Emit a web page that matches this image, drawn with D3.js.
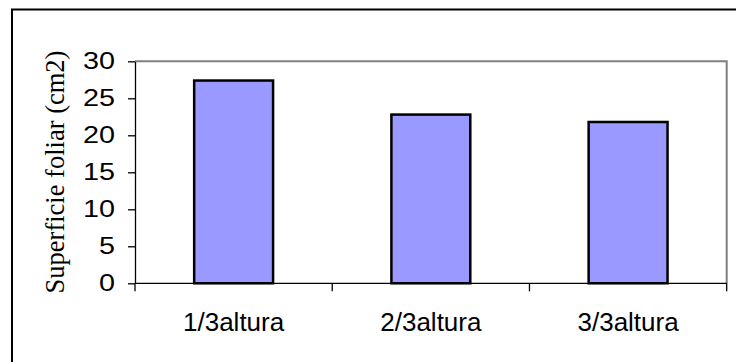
<!DOCTYPE html>
<html>
<head>
<meta charset="utf-8">
<script src="https://cdn.jsdelivr.net/npm/d3@7/dist/d3.min.js"></script>
<style>
  html, body { margin: 0; padding: 0; background: #fff; }
  svg { display: block; }
</style>
</head>
<body>
<svg id="chart" width="736" height="362"></svg>
<script>
// Leaf area by sampling height
const categories = ["1/3altura", "2/3altura", "3/3altura"];
const values = [27.4, 22.8, 21.8];
const yTicks = [0, 5, 10, 15, 20, 25, 30];
const yTitle = "Superficie foliar (cm2)";

const svg = d3.select("#chart");
const W = 736, H = 362;

// outer chart frame (runs off the right and bottom edges)
svg.append("rect")
  .attr("x", 12).attr("y", 9.5)
  .attr("width", W + 20).attr("height", H + 20)
  .attr("fill", "#fff").attr("stroke", "#000").attr("stroke-width", 2);

const plot = { left: 135, top: 61.3, right: 726.7, bottom: 283.3 };

const x = d3.scaleBand()
  .domain(categories)
  .range([plot.left, plot.right])
  .paddingInner(0.6)
  .paddingOuter(0.3);

const y = d3.scaleLinear()
  .domain([0, 30])
  .range([plot.bottom, plot.top]);

// plot area border: grey top and right edges
svg.append("path")
  .attr("d", `M${plot.left},${y(30)}H${plot.right}V${plot.bottom}`)
  .attr("fill", "none").attr("stroke", "#808080").attr("stroke-width", 2);

// bars
svg.append("g").selectAll("rect")
  .data(values)
  .join("rect")
  .attr("x", (d, i) => x(categories[i]))
  .attr("y", d => y(d))
  .attr("width", x.bandwidth())
  .attr("height", d => y(0) - y(d))
  .attr("fill", "#9999FF")
  .attr("stroke", "#000")
  .attr("stroke-width", 2.5);

// y axis
const yAxis = svg.append("g")
  .attr("transform", `translate(${plot.left},0)`)
  .call(d3.axisLeft(y).tickValues(yTicks).tickSize(7).tickPadding(8).tickSizeOuter(0));
yAxis.select(".domain").attr("stroke", "#000").attr("stroke-width", 1.3);
yAxis.selectAll(".tick line").attr("stroke", "#000").attr("stroke-width", 1.3);
yAxis.selectAll(".tick text")
  .attr("x", 0)
  .attr("transform", "translate(-20,0) scale(1.25,1)")
  .attr("font-family", "'Liberation Sans', Arial, sans-serif")
  .attr("font-size", 23)
  .attr("fill", "#000");

// x axis: baseline, ticks on category boundaries, labels centred on bands
const xAxis = svg.append("g");
xAxis.append("line")
  .attr("x1", plot.left).attr("x2", plot.right)
  .attr("y1", y(0)).attr("y2", y(0))
  .attr("stroke", "#000").attr("stroke-width", 1.3);
const boundaries = d3.range(categories.length + 1).map(i => plot.left + i * x.step());
xAxis.selectAll("line.tick")
  .data(boundaries)
  .join("line")
  .attr("class", "tick")
  .attr("x1", d => d).attr("x2", d => d)
  .attr("y1", y(0)).attr("y2", y(0) + 8)
  .attr("stroke", "#000").attr("stroke-width", 1.3);
xAxis.selectAll("text")
  .data(categories)
  .join("text")
  .attr("x", d => x(d) + x.bandwidth() / 2)
  .attr("y", 331)
  .attr("text-anchor", "middle")
  .attr("font-family", "'Liberation Sans', Arial, sans-serif")
  .attr("font-size", 26)
  .attr("fill", "#000")
  .text(d => d);

// y axis title
svg.append("text")
  .attr("transform", `translate(64,172) rotate(-90)`)
  .attr("text-anchor", "middle")
  .attr("font-family", "'Liberation Serif', 'Times New Roman', serif")
  .attr("font-size", 26.5)
  .attr("fill", "#000")
  .text(yTitle);
</script>
</body>
</html>
